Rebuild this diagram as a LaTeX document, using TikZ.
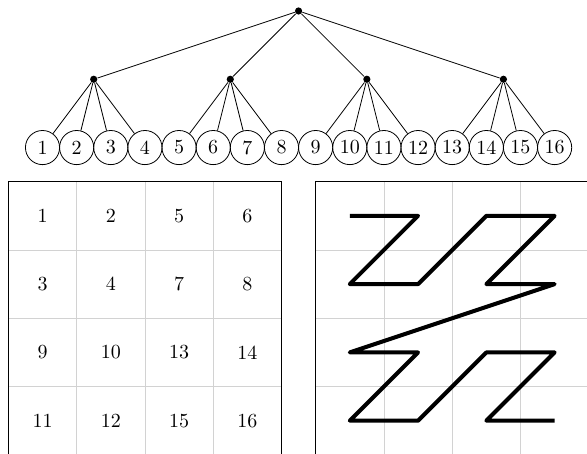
\documentclass[tikz,border=0pt]{standalone}
\usepackage{tikz}
\usetikzlibrary{calc, positioning}

\begin{document}
\begin{tikzpicture}[
    leaf/.style={circle, draw, minimum size=0.6cm, inner sep=0pt},
    branch/.style={circle, fill, inner sep=0pt, minimum size=3.6pt},
    cellgrid/.style={gray!35, thin},
    frame/.style={thick},
    zcurve/.style={line width=2pt, line join=round}
]

    % =================================================================
    % 0. VISIBLE AREA (the two grids are cut at the bottom and right)
    % =================================================================
    \clip (-0.747,-5.368) rectangle (9.569,2.593);

    % =================================================================
    % 1. TREE: root, four inner nodes, sixteen leaves
    % =================================================================
    \node[branch] (Root) at (4.5,2.4) {};
    \foreach \i in {1,...,16}
        \node[leaf] (Leaf\i) at ({0.6*(\i-1)},0) {\i};
    \foreach \g in {1,...,4} {
        \node[branch] (Inner\g) at ({0.6*(4*\g-2.5)},1.2) {};
        \draw (Root) -- (Inner\g);
        \foreach \k in {1,...,4} {
            \pgfmathtruncatemacro{\n}{4*(\g-1)+\k}
            \draw (Inner\g) -- (Leaf\n);
        }
    }

    % =================================================================
    % 2. THE TWO 4 x 4 GRIDS
    % =================================================================
    \foreach \k in {1,2,3} {
        \draw[cellgrid] ({-0.6+1.2*\k},-0.6) -- ({-0.6+1.2*\k},-5.4);
        \draw[cellgrid] ({4.8+1.2*\k},-0.6) -- ({4.8+1.2*\k},-5.4);
        \draw[cellgrid] (-0.6,{-0.6-1.2*\k}) -- (4.2,{-0.6-1.2*\k});
        \draw[cellgrid] (4.8,{-0.6-1.2*\k}) -- (9.6,{-0.6-1.2*\k});
    }
    \draw[frame] (-0.6,-5.4) rectangle (4.2,-0.6);
    \draw[frame] (4.8,-5.4) rectangle (9.6,-0.6);

    % =================================================================
    % 3. CELL NUMBERS (left) AND Z-ORDER PATH (right)
    % =================================================================
    \foreach \n [count=\c from 0] in {1,2,5,6,3,4,7,8,9,10,13,14,11,12,15,16} {
        \pgfmathtruncatemacro{\col}{mod(\c,4)}
        \pgfmathtruncatemacro{\row}{int(\c/4)}
        \node (Cell\n) at ({1.2*\col},{-1.2-1.2*\row}) {\n};
        \coordinate (Z\n) at ({5.4+1.2*\col},{-1.2-1.2*\row});
    }
    \draw[zcurve] (Z1) \foreach \n in {2,...,16} { -- (Z\n) };

\end{tikzpicture}
\end{document}
